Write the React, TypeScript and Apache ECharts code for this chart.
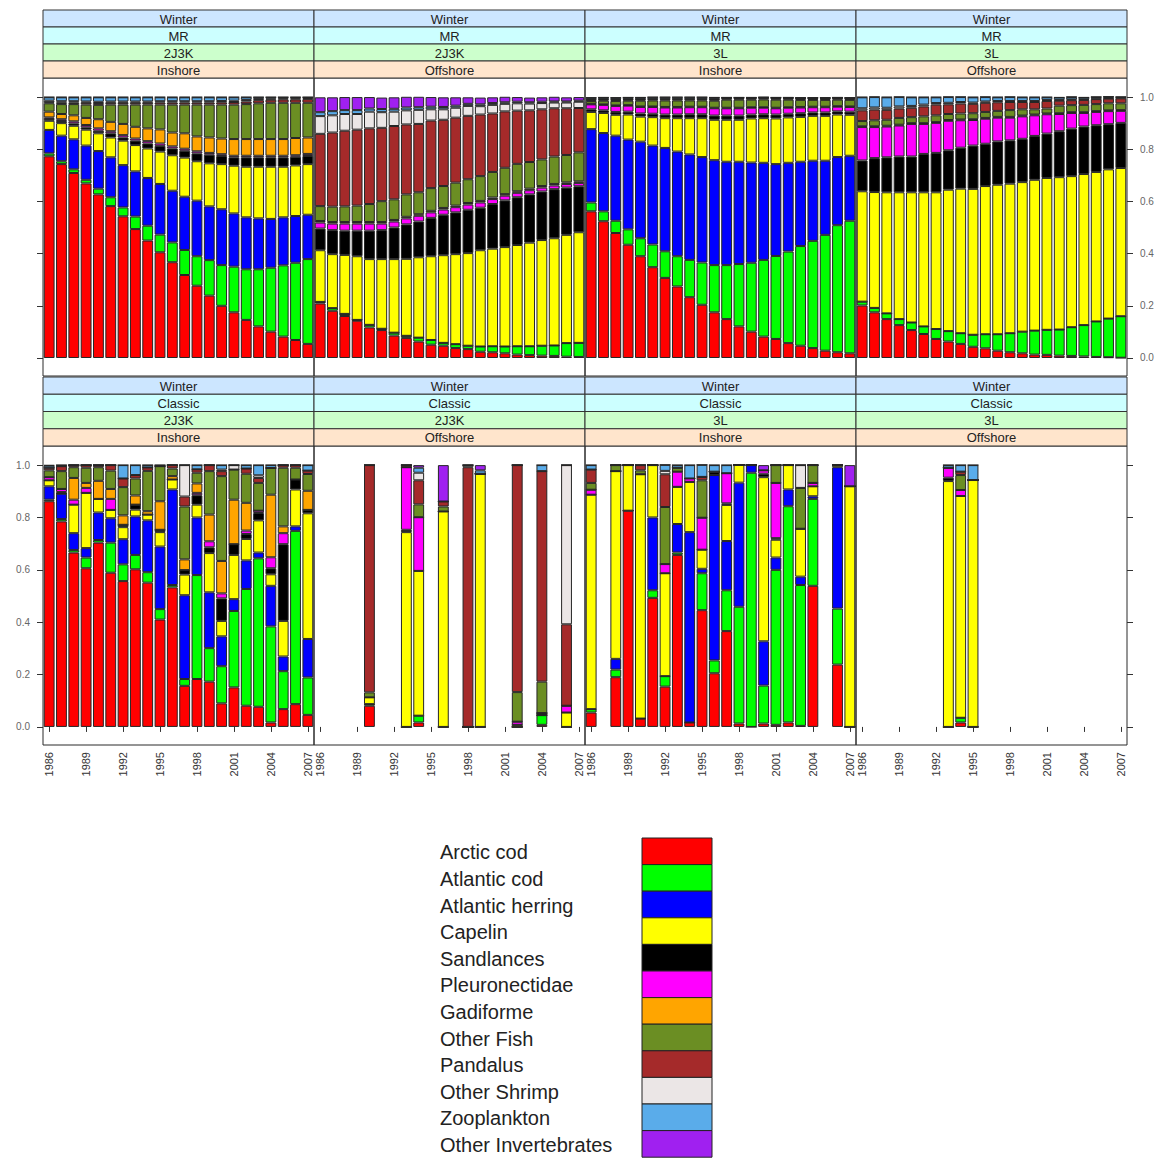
import React, { useEffect, useRef } from "react";
import * as echarts from "echarts";

// ---- categories ----
const YEARS = [1986, 1987, 1988, 1989, 1990, 1991, 1992, 1993, 1994, 1995, 1996, 1997, 1998, 1999, 2000, 2001, 2002, 2003, 2004, 2005, 2006, 2007];

const SPECIES = [
  "Arctic cod", "Atlantic cod", "Atlantic herring", "Capelin", "Sandlances", "Pleuronectidae",
  "Gadiforme", "Other Fish", "Pandalus", "Other Shrimp", "Zooplankton", "Other Invertebrates",
];

const SPECIES_COLORS = [
  "#FF0000", "#00FF00", "#0000FF", "#FFFF00", "#000000", "#FF00FF",
  "#FFA500", "#6B8E23", "#A52A2A", "#EBE6E6", "#5AACEA", "#A020F0",
];

const Y_TICKS = [0, 0.2, 0.4, 0.6, 0.8, 1.0];

// ---- MR model proportions: one row per species (SPECIES order), one value per year ----
const MR_2J3K_INSHORE: number[][] = [
  [0.773, 0.743, 0.709, 0.669, 0.627, 0.582, 0.543, 0.494, 0.450, 0.405, 0.367, 0.318, 0.277, 0.239, 0.200, 0.175, 0.146, 0.121, 0.101, 0.082, 0.069, 0.054],
  [0.011, 0.011, 0.014, 0.014, 0.022, 0.034, 0.034, 0.048, 0.057, 0.068, 0.076, 0.096, 0.113, 0.136, 0.156, 0.175, 0.194, 0.219, 0.245, 0.273, 0.296, 0.325],
  [0.090, 0.098, 0.115, 0.131, 0.144, 0.153, 0.162, 0.173, 0.183, 0.194, 0.198, 0.204, 0.213, 0.206, 0.214, 0.204, 0.199, 0.195, 0.187, 0.184, 0.179, 0.170],
  [0.035, 0.048, 0.052, 0.061, 0.068, 0.076, 0.094, 0.101, 0.113, 0.124, 0.136, 0.150, 0.151, 0.165, 0.173, 0.183, 0.194, 0.198, 0.200, 0.194, 0.194, 0.194],
  [0.007, 0.008, 0.009, 0.009, 0.010, 0.016, 0.012, 0.017, 0.019, 0.022, 0.026, 0.026, 0.030, 0.033, 0.031, 0.032, 0.036, 0.036, 0.036, 0.036, 0.033, 0.031],
  [0.006, 0.007, 0.008, 0.009, 0.009, 0.008, 0.009, 0.008, 0.009, 0.009, 0.008, 0.008, 0.008, 0.007, 0.007, 0.006, 0.006, 0.006, 0.006, 0.006, 0.006, 0.008],
  [0.022, 0.020, 0.023, 0.027, 0.035, 0.036, 0.043, 0.045, 0.049, 0.054, 0.053, 0.059, 0.057, 0.059, 0.060, 0.064, 0.064, 0.064, 0.064, 0.064, 0.066, 0.063],
  [0.032, 0.038, 0.043, 0.051, 0.055, 0.066, 0.074, 0.085, 0.091, 0.095, 0.107, 0.110, 0.122, 0.126, 0.130, 0.132, 0.134, 0.137, 0.139, 0.139, 0.135, 0.133],
  [0.004, 0.005, 0.006, 0.007, 0.007, 0.007, 0.007, 0.007, 0.007, 0.008, 0.008, 0.008, 0.008, 0.008, 0.009, 0.010, 0.010, 0.012, 0.012, 0.013, 0.013, 0.014],
  [0.006, 0.006, 0.005, 0.005, 0.005, 0.005, 0.005, 0.005, 0.005, 0.005, 0.005, 0.005, 0.005, 0.005, 0.005, 0.005, 0.006, 0.005, 0.004, 0.004, 0.004, 0.004],
  [0.013, 0.015, 0.015, 0.016, 0.017, 0.016, 0.016, 0.016, 0.016, 0.015, 0.015, 0.015, 0.015, 0.015, 0.014, 0.013, 0.010, 0.006, 0.005, 0.004, 0.004, 0.003],
  [0.001, 0.001, 0.001, 0.001, 0.001, 0.001, 0.001, 0.001, 0.001, 0.001, 0.001, 0.001, 0.001, 0.001, 0.001, 0.001, 0.001, 0.001, 0.001, 0.001, 0.001, 0.001],
];

const MR_2J3K_OFFSHORE: number[][] = [
  [0.209, 0.181, 0.161, 0.143, 0.117, 0.107, 0.086, 0.077, 0.063, 0.051, 0.047, 0.038, 0.034, 0.024, 0.022, 0.018, 0.013, 0.011, 0.009, 0.008, 0.005, 0.004],
  [0.006, 0.010, 0.008, 0.003, 0.010, 0.005, 0.011, 0.008, 0.015, 0.018, 0.011, 0.015, 0.013, 0.020, 0.023, 0.026, 0.032, 0.034, 0.038, 0.040, 0.052, 0.054],
  [0, 0, 0, 0, 0, 0, 0, 0, 0, 0, 0, 0, 0, 0, 0, 0, 0, 0, 0, 0, 0, 0],
  [0.198, 0.207, 0.226, 0.244, 0.252, 0.267, 0.282, 0.295, 0.308, 0.321, 0.336, 0.345, 0.355, 0.369, 0.374, 0.381, 0.388, 0.397, 0.405, 0.411, 0.415, 0.424],
  [0.083, 0.092, 0.093, 0.098, 0.109, 0.111, 0.121, 0.132, 0.137, 0.147, 0.155, 0.160, 0.166, 0.163, 0.171, 0.179, 0.183, 0.185, 0.186, 0.188, 0.181, 0.176],
  [0.023, 0.025, 0.027, 0.027, 0.027, 0.025, 0.023, 0.023, 0.022, 0.021, 0.020, 0.020, 0.020, 0.020, 0.019, 0.018, 0.017, 0.016, 0.015, 0.014, 0.014, 0.013],
  [0.006, 0.006, 0.006, 0.006, 0.006, 0.006, 0.006, 0.006, 0.006, 0.006, 0.006, 0.006, 0.006, 0.006, 0.006, 0.006, 0.006, 0.006, 0.006, 0.006, 0.006, 0.006],
  [0.057, 0.059, 0.060, 0.063, 0.069, 0.080, 0.079, 0.086, 0.084, 0.087, 0.084, 0.088, 0.091, 0.095, 0.098, 0.101, 0.105, 0.102, 0.102, 0.105, 0.105, 0.111],
  [0.277, 0.284, 0.290, 0.291, 0.290, 0.281, 0.281, 0.268, 0.262, 0.259, 0.254, 0.249, 0.243, 0.236, 0.224, 0.216, 0.204, 0.198, 0.192, 0.185, 0.179, 0.170],
  [0.068, 0.066, 0.064, 0.060, 0.064, 0.060, 0.055, 0.054, 0.054, 0.043, 0.040, 0.038, 0.038, 0.032, 0.033, 0.029, 0.028, 0.026, 0.024, 0.022, 0.022, 0.024],
  [0.015, 0.016, 0.015, 0.015, 0.012, 0.012, 0.011, 0.011, 0.010, 0.010, 0.009, 0.008, 0.008, 0.007, 0.007, 0.006, 0.006, 0.005, 0.005, 0.004, 0.004, 0.004],
  [0.057, 0.053, 0.050, 0.050, 0.044, 0.044, 0.044, 0.041, 0.040, 0.037, 0.037, 0.032, 0.025, 0.026, 0.022, 0.021, 0.018, 0.018, 0.017, 0.018, 0.016, 0.014],
];

const MR_3L_INSHORE: number[][] = [
  [0.562, 0.524, 0.479, 0.434, 0.390, 0.348, 0.307, 0.274, 0.233, 0.204, 0.175, 0.149, 0.121, 0.101, 0.082, 0.073, 0.057, 0.047, 0.038, 0.028, 0.022, 0.018],
  [0.034, 0.038, 0.047, 0.059, 0.069, 0.087, 0.102, 0.116, 0.143, 0.162, 0.181, 0.207, 0.239, 0.264, 0.294, 0.318, 0.351, 0.382, 0.411, 0.444, 0.487, 0.508],
  [0.281, 0.300, 0.326, 0.344, 0.370, 0.379, 0.396, 0.401, 0.404, 0.404, 0.402, 0.396, 0.392, 0.384, 0.372, 0.352, 0.340, 0.323, 0.307, 0.284, 0.261, 0.249],
  [0.066, 0.077, 0.080, 0.096, 0.096, 0.109, 0.114, 0.128, 0.139, 0.149, 0.155, 0.161, 0.161, 0.169, 0.171, 0.175, 0.174, 0.172, 0.172, 0.172, 0.163, 0.157],
  [0.010, 0.010, 0.011, 0.011, 0.012, 0.013, 0.014, 0.014, 0.015, 0.015, 0.016, 0.016, 0.016, 0.015, 0.015, 0.015, 0.014, 0.014, 0.013, 0.013, 0.012, 0.012],
  [0.019, 0.021, 0.023, 0.023, 0.025, 0.026, 0.027, 0.027, 0.027, 0.027, 0.028, 0.028, 0.028, 0.026, 0.025, 0.024, 0.023, 0.022, 0.020, 0.020, 0.018, 0.018],
  [0.002, 0.002, 0.002, 0.002, 0.002, 0.002, 0.002, 0.002, 0.002, 0.002, 0.002, 0.002, 0.002, 0.002, 0.002, 0.002, 0.002, 0.002, 0.002, 0.002, 0.002, 0.002],
  [0.011, 0.014, 0.017, 0.017, 0.022, 0.023, 0.025, 0.025, 0.024, 0.024, 0.027, 0.031, 0.031, 0.029, 0.030, 0.031, 0.029, 0.027, 0.026, 0.026, 0.025, 0.025],
  [0.004, 0.004, 0.004, 0.004, 0.004, 0.004, 0.004, 0.004, 0.004, 0.004, 0.004, 0.004, 0.004, 0.004, 0.004, 0.004, 0.004, 0.004, 0.004, 0.004, 0.004, 0.004],
  [0.002, 0.002, 0.002, 0.002, 0.002, 0.002, 0.002, 0.002, 0.002, 0.002, 0.002, 0.002, 0.002, 0.002, 0.002, 0.002, 0.002, 0.002, 0.002, 0.002, 0.002, 0.002],
  [0.006, 0.006, 0.006, 0.006, 0.006, 0.006, 0.006, 0.006, 0.006, 0.006, 0.006, 0.002, 0.002, 0.002, 0.002, 0.002, 0.002, 0.002, 0.002, 0.002, 0.002, 0.002],
  [0.001, 0.001, 0.001, 0.001, 0.001, 0.001, 0.001, 0.001, 0.001, 0.001, 0.001, 0.001, 0.001, 0.001, 0.001, 0.001, 0.001, 0.001, 0.001, 0.001, 0.001, 0.001],
];

const MR_3L_OFFSHORE: number[][] = [
  [0.201, 0.175, 0.149, 0.126, 0.107, 0.092, 0.073, 0.063, 0.054, 0.043, 0.037, 0.028, 0.022, 0.018, 0.013, 0.012, 0.009, 0.008, 0.006, 0.004, 0.003, 0.001],
  [0.015, 0.017, 0.022, 0.023, 0.029, 0.029, 0.038, 0.040, 0.041, 0.046, 0.054, 0.063, 0.073, 0.083, 0.092, 0.096, 0.100, 0.110, 0.120, 0.136, 0.148, 0.159],
  [0, 0, 0, 0, 0, 0, 0, 0, 0, 0, 0, 0, 0, 0, 0, 0, 0, 0, 0, 0, 0, 0],
  [0.423, 0.444, 0.464, 0.486, 0.499, 0.514, 0.524, 0.542, 0.554, 0.559, 0.568, 0.573, 0.573, 0.573, 0.578, 0.582, 0.584, 0.579, 0.579, 0.573, 0.572, 0.568],
  [0.118, 0.130, 0.134, 0.137, 0.137, 0.147, 0.151, 0.151, 0.157, 0.166, 0.162, 0.166, 0.166, 0.166, 0.168, 0.170, 0.176, 0.182, 0.182, 0.179, 0.173, 0.173],
  [0.128, 0.119, 0.118, 0.119, 0.125, 0.115, 0.115, 0.113, 0.105, 0.098, 0.096, 0.091, 0.087, 0.086, 0.079, 0.074, 0.066, 0.060, 0.052, 0.051, 0.050, 0.046],
  [0.003, 0.003, 0.003, 0.003, 0.003, 0.003, 0.003, 0.003, 0.003, 0.003, 0.003, 0.003, 0.003, 0.003, 0.003, 0.003, 0.003, 0.003, 0.003, 0.003, 0.003, 0.003],
  [0.020, 0.023, 0.023, 0.026, 0.023, 0.026, 0.026, 0.023, 0.023, 0.023, 0.023, 0.023, 0.026, 0.024, 0.020, 0.019, 0.029, 0.027, 0.028, 0.027, 0.027, 0.026],
  [0.041, 0.041, 0.038, 0.036, 0.036, 0.038, 0.041, 0.037, 0.038, 0.036, 0.035, 0.033, 0.031, 0.028, 0.028, 0.029, 0.019, 0.019, 0.019, 0.019, 0.018, 0.019],
  [0.008, 0.008, 0.008, 0.008, 0.007, 0.007, 0.006, 0.006, 0.006, 0.005, 0.005, 0.005, 0.004, 0.004, 0.004, 0.004, 0.003, 0.003, 0.002, 0.002, 0.002, 0.002],
  [0.042, 0.040, 0.040, 0.036, 0.033, 0.028, 0.022, 0.022, 0.019, 0.020, 0.017, 0.014, 0.015, 0.014, 0.014, 0.010, 0.009, 0.009, 0.007, 0.006, 0.005, 0.003],
  [0.001, 0.001, 0.001, 0.001, 0.001, 0.001, 0.001, 0.001, 0.001, 0.001, 0.001, 0.001, 0.001, 0.001, 0.001, 0.001, 0.001, 0.001, 0.001, 0.001, 0.001, 0.001],
];

// ---- Classic diet proportions: [year, proportions in SPECIES order]; years without samples are absent ----
const CLASSIC_2J3K_INSHORE: [number, number[]][] = [
  [1986, [0.862, 0.006, 0.051, 0.023, 0, 0.012, 0, 0.026, 0.010, 0, 0.008, 0.002]],
  [1987, [0.785, 0.009, 0.097, 0, 0.006, 0.012, 0, 0.068, 0.019, 0, 0.004, 0]],
  [1988, [0.666, 0.010, 0.064, 0.109, 0, 0.019, 0.083, 0.041, 0.008, 0, 0, 0]],
  [1989, [0.606, 0.041, 0.036, 0.211, 0, 0.019, 0.019, 0.058, 0.010, 0, 0, 0]],
  [1990, [0.704, 0.010, 0.105, 0.052, 0, 0, 0.069, 0.052, 0.008, 0, 0, 0]],
  [1991, [0.589, 0.115, 0.093, 0.032, 0, 0.042, 0.038, 0.070, 0.021, 0, 0, 0]],
  [1992, [0.557, 0.064, 0.096, 0.046, 0.009, 0, 0.036, 0.108, 0.033, 0, 0.051, 0]],
  [1993, [0.602, 0.055, 0.147, 0.026, 0.019, 0, 0.035, 0.065, 0.013, 0, 0.038, 0]],
  [1994, [0.551, 0.040, 0.198, 0.022, 0, 0, 0.013, 0.154, 0.013, 0, 0.009, 0]],
  [1995, [0.410, 0.040, 0.239, 0.055, 0.009, 0, 0.109, 0.134, 0, 0, 0.004, 0]],
  [1996, [0.533, 0.009, 0.365, 0.038, 0, 0, 0.013, 0.029, 0.013, 0, 0, 0]],
  [1997, [0.157, 0.026, 0.320, 0.079, 0.017, 0, 0.041, 0.202, 0.038, 0.120, 0, 0]],
  [1998, [0.183, 0.397, 0.220, 0.049, 0.036, 0.009, 0.036, 0.041, 0.013, 0, 0.016, 0]],
  [1999, [0.173, 0.128, 0.213, 0.150, 0.022, 0.023, 0.102, 0.166, 0.023, 0, 0, 0]],
  [2000, [0.090, 0.142, 0.114, 0.059, 0.086, 0.019, 0.124, 0.324, 0.019, 0.006, 0.017, 0]],
  [2001, [0.151, 0.292, 0.045, 0.169, 0.041, 0, 0.170, 0.115, 0, 0.017, 0, 0]],
  [2002, [0.081, 0.446, 0.109, 0.082, 0.019, 0.013, 0.106, 0.111, 0.020, 0, 0.013, 0]],
  [2003, [0.077, 0.567, 0.022, 0.123, 0.028, 0.009, 0, 0.106, 0.019, 0.010, 0.039, 0]],
  [2004, [0.017, 0.367, 0.155, 0.044, 0.023, 0.042, 0.239, 0.102, 0, 0, 0.011, 0]],
  [2005, [0.068, 0.145, 0.056, 0.136, 0.293, 0.042, 0.026, 0.224, 0.010, 0, 0, 0]],
  [2006, [0.087, 0.662, 0.017, 0.141, 0.038, 0, 0, 0.045, 0.010, 0, 0, 0]],
  [2007, [0.046, 0.143, 0.147, 0.480, 0.013, 0, 0.073, 0.064, 0.013, 0, 0.021, 0]],
];

const CLASSIC_2J3K_OFFSHORE: [number, number[]][] = [
  [1990, [0.081, 0.006, 0, 0.026, 0, 0, 0, 0.019, 0.868, 0, 0, 0]],
  [1993, [0, 0, 0, 0.744, 0.009, 0.239, 0, 0, 0.008, 0, 0, 0]],
  [1994, [0.017, 0.026, 0, 0.553, 0, 0.205, 0, 0.049, 0.092, 0.029, 0.019, 0.010]],
  [1996, [0, 0, 0, 0.823, 0, 0, 0, 0.019, 0.019, 0, 0, 0.139]],
  [1998, [0, 0, 0, 0, 0, 0, 0, 0, 0.992, 0.008, 0, 0]],
  [1999, [0, 0, 0, 0.967, 0, 0, 0, 0, 0, 0, 0.013, 0.020]],
  [2002, [0, 0, 0, 0.008, 0, 0.012, 0, 0.113, 0.867, 0, 0, 0]],
  [2004, [0.008, 0.037, 0, 0, 0.008, 0, 0, 0.120, 0.804, 0, 0.023, 0]],
  [2006, [0, 0, 0, 0.055, 0, 0.026, 0, 0, 0.311, 0.608, 0, 0]],
];

const CLASSIC_3L_INSHORE: [number, number[]][] = [
  [1986, [0.055, 0.013, 0, 0.819, 0, 0.019, 0, 0.026, 0.051, 0, 0.017, 0]],
  [1988, [0.190, 0.029, 0.041, 0.717, 0, 0, 0, 0.023, 0, 0, 0, 0]],
  [1989, [0.826, 0, 0, 0.174, 0, 0, 0, 0, 0, 0, 0, 0]],
  [1990, [0.032, 0, 0, 0.933, 0, 0, 0, 0.015, 0.020, 0, 0, 0]],
  [1991, [0.493, 0.029, 0.278, 0.200, 0, 0, 0, 0, 0, 0, 0, 0]],
  [1992, [0.154, 0.040, 0, 0.393, 0, 0.035, 0, 0.218, 0.125, 0.013, 0.023, 0]],
  [1993, [0.657, 0.009, 0.109, 0.142, 0, 0.058, 0, 0.015, 0, 0, 0.010, 0]],
  [1994, [0.017, 0, 0.727, 0.192, 0, 0.013, 0, 0, 0, 0, 0.051, 0]],
  [1995, [0.446, 0.141, 0.017, 0.073, 0, 0.122, 0, 0.143, 0.013, 0, 0.046, 0]],
  [1996, [0.205, 0.049, 0.708, 0, 0.013, 0, 0, 0, 0, 0, 0.025, 0]],
  [1997, [0.366, 0.156, 0.188, 0.138, 0.006, 0.115, 0, 0, 0, 0, 0.031, 0]],
  [1998, [0.013, 0.446, 0.474, 0.068, 0, 0, 0, 0, 0, 0, 0, 0]],
  [1999, [0, 0.971, 0.029, 0, 0, 0, 0, 0, 0, 0, 0, 0]],
  [2000, [0.013, 0.145, 0.169, 0.627, 0.013, 0.013, 0, 0, 0, 0, 0, 0.020]],
  [2001, [0.008, 0.592, 0.047, 0.068, 0.006, 0.211, 0, 0.068, 0, 0, 0, 0]],
  [2002, [0.017, 0.826, 0.064, 0.093, 0, 0, 0, 0, 0, 0, 0, 0]],
  [2003, [0.004, 0.538, 0.032, 0.183, 0, 0, 0, 0.156, 0, 0.087, 0, 0]],
  [2004, [0.539, 0.332, 0.010, 0.038, 0, 0.013, 0, 0.068, 0, 0, 0, 0]],
  [2006, [0.238, 0.214, 0.540, 0.008, 0, 0, 0, 0, 0, 0, 0, 0]],
  [2007, [0, 0, 0, 0.919, 0, 0, 0, 0, 0, 0, 0, 0.081]],
];

const CLASSIC_3L_OFFSHORE: [number, number[]][] = [
  [1993, [0, 0, 0, 0.939, 0.013, 0.038, 0, 0, 0, 0, 0.010, 0]],
  [1994, [0.017, 0.018, 0, 0.847, 0, 0.023, 0, 0.057, 0.013, 0, 0.025, 0]],
  [1995, [0, 0, 0, 0.943, 0, 0, 0, 0, 0, 0, 0.057, 0]],
];

// Turn per-year rows into per-species series over all YEARS (null where no sample)
function byYear(rows: [number, number[]][]): (number | null)[][] {
  return SPECIES.map((_, s) =>
    YEARS.map((y) => {
      const row = rows.find((r) => r[0] === y);
      return row ? row[1][s] : null;
    })
  );
}

const PANELS = [
  { strips: ["Winter", "MR", "2J3K", "Inshore"], values: MR_2J3K_INSHORE },
  { strips: ["Winter", "MR", "2J3K", "Offshore"], values: MR_2J3K_OFFSHORE },
  { strips: ["Winter", "MR", "3L", "Inshore"], values: MR_3L_INSHORE },
  { strips: ["Winter", "MR", "3L", "Offshore"], values: MR_3L_OFFSHORE },
  { strips: ["Winter", "Classic", "2J3K", "Inshore"], values: byYear(CLASSIC_2J3K_INSHORE) },
  { strips: ["Winter", "Classic", "2J3K", "Offshore"], values: byYear(CLASSIC_2J3K_OFFSHORE) },
  { strips: ["Winter", "Classic", "3L", "Inshore"], values: byYear(CLASSIC_3L_INSHORE) },
  { strips: ["Winter", "Classic", "3L", "Offshore"], values: byYear(CLASSIC_3L_OFFSHORE) },
];

// ---- layout ----
const FONT = '"Liberation Sans", Arial, Helvetica, sans-serif';
const COL_LEFT = [43, 314, 585, 856];
const PANEL_W = 271;
const ROWS = [
  { frameTop: 78, frameH: 298, stripTop: 10, stripH: 17 },
  { frameTop: 446, frameH: 299, stripTop: 377, stripH: 17.25 },
];
// strip colours, top strip first
const STRIP_FILLS = ["#cce6ff", "#ccffff", "#ccffcc", "#ffe5cc"];
const Y_MIN = -0.069;
const Y_MAX = 1.073;

function buildOption() {
  const grid: any[] = [];
  const xAxis: any[] = [];
  const yAxis: any[] = [];
  const series: any[] = [];
  const graphic: any[] = [];

  PANELS.forEach((panel, k) => {
    const row = k < 4 ? 0 : 1;
    const col = k % 4;
    const R = ROWS[row];
    const left = COL_LEFT[col];

    grid.push({
      left,
      top: R.frameTop,
      width: PANEL_W,
      height: R.frameH,
      show: true,
      borderColor: "#2a2a2a",
      borderWidth: 1,
      backgroundColor: "transparent",
    });

    const every3 = (i: number) => i % 3 === 0;
    xAxis.push({
      type: "category",
      gridIndex: k,
      data: YEARS.map(String),
      boundaryGap: true,
      axisLine: { show: false },
      splitLine: { show: false },
      axisTick: {
        show: row === 1,
        alignWithLabel: true,
        interval: every3,
        length: 5,
        lineStyle: { color: "#333", width: 1 },
      },
      axisLabel: {
        show: row === 1,
        interval: every3,
        rotate: 90,
        fontSize: 11,
        fontFamily: FONT,
        color: "#333",
        margin: 7,
      },
    });

    // outer panels carry y ticks; labels alternate: right on top row, left on bottom row
    const onLeft = col === 0;
    const onRight = col === 3;
    const showTicks = onLeft || onRight;
    const showLabels = (row === 0 && onRight) || (row === 1 && onLeft);
    yAxis.push({
      type: "value",
      gridIndex: k,
      min: Y_MIN,
      max: Y_MAX,
      position: onRight ? "right" : "left",
      axisLine: { show: false },
      splitLine: { show: false },
      axisTick: {
        show: showTicks,
        customValues: Y_TICKS,
        length: 6,
        lineStyle: { color: "#333", width: 1 },
      },
      axisLabel: {
        show: showLabels,
        customValues: Y_TICKS,
        formatter: (v: number) => v.toFixed(1),
        fontSize: 10,
        fontFamily: FONT,
        color: "#666",
        margin: 13,
      },
    });

    SPECIES.forEach((name, s) => {
      series.push({
        type: "bar",
        name,
        xAxisIndex: k,
        yAxisIndex: k,
        stack: "panel" + k,
        barCategoryGap: "12%",
        data: panel.values[s],
        itemStyle: { color: SPECIES_COLORS[s], borderColor: "#262626", borderWidth: 1 },
        emphasis: { disabled: true },
        silent: true,
      });
    });

    // strip headers
    panel.strips.forEach((label, j) => {
      const y = R.stripTop + j * R.stripH;
      graphic.push({
        type: "rect",
        shape: { x: left, y, width: PANEL_W, height: R.stripH },
        style: { fill: STRIP_FILLS[j], stroke: "#333", lineWidth: 1 },
        silent: true,
      });
      graphic.push({
        type: "text",
        x: left + PANEL_W / 2,
        y: y + R.stripH / 2 + 0.5,
        style: {
          text: label,
          fill: "#222",
          fontSize: 13,
          fontFamily: FONT,
          align: "center",
          verticalAlign: "middle",
          textAlign: "center",
          textVerticalAlign: "middle",
        },
        silent: true,
      });
    });
  });

  // key: species names with colour boxes
  const keyTop = 838;
  const keyStep = 26.6;
  SPECIES.forEach((name, s) => {
    graphic.push({
      type: "rect",
      shape: { x: 642, y: keyTop + s * keyStep, width: 70, height: keyStep },
      style: { fill: SPECIES_COLORS[s], stroke: "#222", lineWidth: 1 },
      silent: true,
    });
    graphic.push({
      type: "text",
      x: 440,
      y: keyTop + s * keyStep + keyStep / 2 + 1,
      style: {
        text: name,
        fill: "#222",
        fontSize: 20,
        fontFamily: FONT,
        align: "left",
        verticalAlign: "middle",
        textAlign: "left",
        textVerticalAlign: "middle",
      },
      silent: true,
    });
  });

  return {
    animation: false,
    backgroundColor: "#ffffff",
    grid,
    xAxis,
    yAxis,
    series,
    graphic,
  };
}

export default function App() {
  const ref = useRef<HTMLDivElement>(null);

  useEffect(() => {
    if (!ref.current) return;
    const chart = echarts.init(ref.current, undefined, { renderer: "svg" });
    chart.setOption(buildOption() as any);
    return () => chart.dispose();
  }, []);

  return (
    <div
      ref={ref}
      style={{ position: "absolute", left: 0, top: 0, width: 1161, height: 1160, background: "#fff" }}
    />
  );
}
